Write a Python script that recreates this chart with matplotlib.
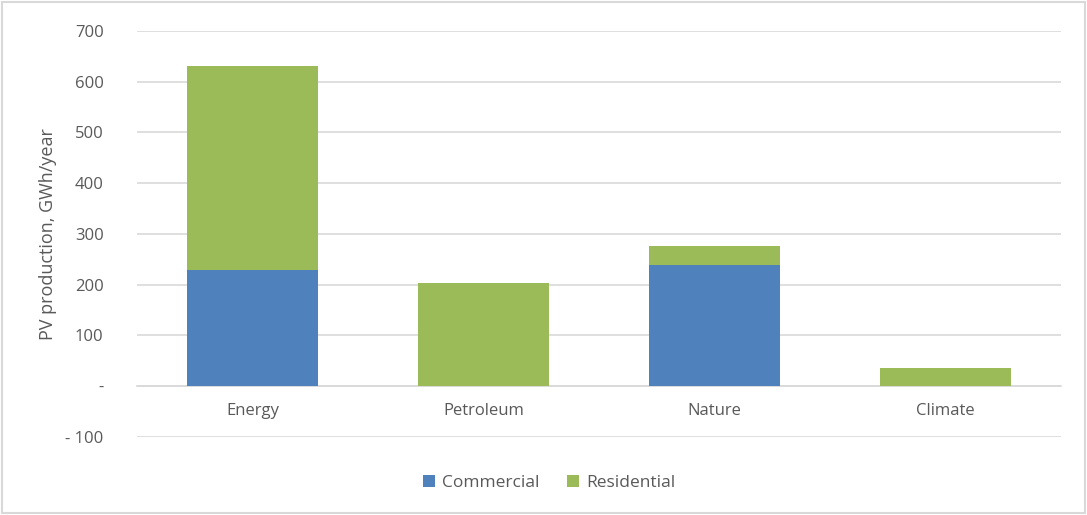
import matplotlib.pyplot as plt
from matplotlib.patches import Rectangle

plt.rcParams['font.family'] = ['Open Sans', 'DejaVu Sans']

categories = ['Energy', 'Petroleum', 'Nature', 'Climate']
commercial = [228, 0, 239, 0]
residential = [402, 203, 37, 35]
yticks = [-100, 0, 100, 200, 300, 400, 500, 600, 700]
ytick_labels = ['- 100', '-', '100', '200', '300', '400', '500', '600', '700']

blue = '#4f81bd'
green = '#9bbb59'
text_col = '#595959'
grid_col = '#d9d9d9'

fig = plt.figure(figsize=(10.87, 5.15), dpi=100)
ax = fig.add_axes([0.126, 0.1515, 0.85, 0.7885])

x = list(range(len(categories)))
ax.bar(x, commercial, width=0.57, color=blue, label='Commercial', zorder=3)
ax.bar(x, residential, bottom=commercial, width=0.57, color=green, label='Residential', zorder=3)

# category axis crosses at zero
ax.spines['bottom'].set_position(('data', 0))
ax.spines['bottom'].set_color(grid_col)
ax.spines['bottom'].set_linewidth(1.2)
for s in ['top', 'right', 'left']:
    ax.spines[s].set_visible(False)

ax.set_xlim(-0.5, len(categories) - 0.5)
ax.set_ylim(-100, 700)
ax.set_yticks(yticks)
ax.set_yticklabels(ytick_labels)
ax.set_xticks(x)
ax.set_xticklabels(categories)
ax.yaxis.grid(True, color=grid_col, linewidth=1.2, zorder=0)
ax.tick_params(axis='both', length=0, labelcolor=text_col, labelsize=12)
ax.tick_params(axis='y', pad=24)
ax.tick_params(axis='x', pad=12)

ax.set_ylabel('PV production, GWh/year', color=text_col, fontsize=13, labelpad=6)

handles, labels = ax.get_legend_handles_labels()
fig.legend(handles, labels, loc='center', bbox_to_anchor=(0.505, 0.062), ncol=2, frameon=False,
           fontsize=12.5, labelcolor=text_col, handlelength=0.7, handleheight=0.7,
           handletextpad=0.4, columnspacing=1.6)

fig.patches.append(Rectangle((0.002, 0.003), 0.996, 0.994, transform=fig.transFigure,
                             fill=False, edgecolor='#d9d9d9', linewidth=1.5))

fig.savefig('out.png', dpi=100)
